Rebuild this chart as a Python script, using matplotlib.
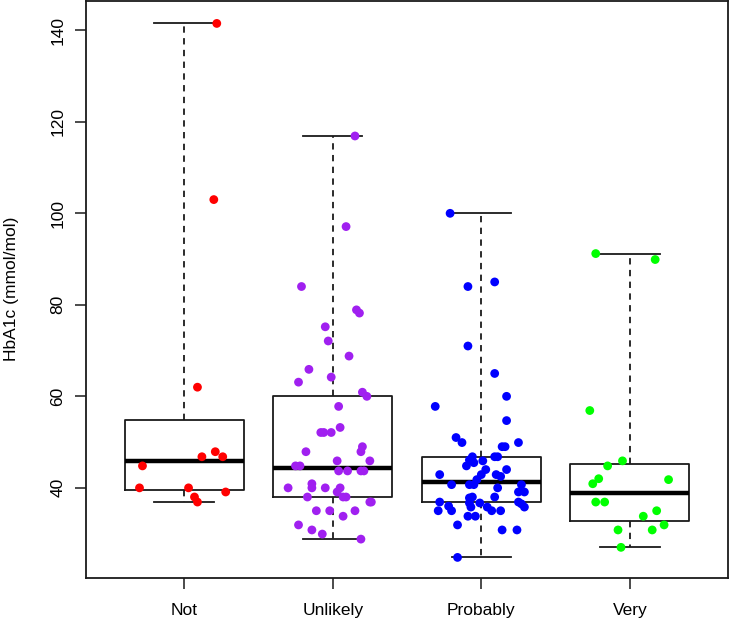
import matplotlib
matplotlib.use("Agg")
import matplotlib.pyplot as plt

plt.rcParams['font.family'] = ['Liberation Sans', 'DejaVu Sans']

# groups
kategorie = ["Not", "Unlikely", "Probably", "Very"]
barvy = ["#ff0000", "#a020f0", "#0000ff", "#00ff00"]

# box statistics (whislo, q1, median, q3, whishi)
dolni_vous = [36.9, 28.8, 24.8, 27.0]
q1 = [39.6, 38.0, 36.9, 32.7]
median = [45.9, 44.4, 41.3, 38.9]
q3 = [54.9, 60.0, 46.8, 45.3]
horni_vous = [141.5, 116.9, 100.0, 91.2]

# individual values and their horizontal jitter
not_hodnoty = [141.5, 103.0, 62.0, 46.8, 47.9, 46.8, 44.8, 40.0, 40.0, 39.1, 38.0, 36.9]
not_jitter = [0.22, 0.20, 0.09, 0.12, 0.21, 0.26, -0.28, -0.30, 0.03, 0.28, 0.07, 0.09]

unlikely_hodnoty = [116.9, 97.1, 84.0, 78.9, 78.2, 75.2, 72.1, 68.8, 65.9, 63.1,
                    64.2, 60.9, 60.0, 57.8, 53.2, 52.1, 52.1, 52.1, 49.0, 47.9,
                    47.9, 45.9, 45.9, 44.8, 44.8, 43.7, 43.7, 43.7, 43.7, 40.0,
                    40.9, 40.0, 40.0, 40.0, 39.1, 38.0, 38.0, 38.0, 36.9, 36.9,
                    35.0, 35.0, 35.0, 33.8, 31.9, 30.8, 29.9, 28.8]
unlikely_jitter = [0.15, 0.09, -0.21, 0.16, 0.18, -0.05, -0.03, 0.11, -0.16, -0.23,
                   -0.01, 0.20, 0.23, 0.04, 0.05, -0.08, -0.06, -0.01, 0.20, 0.19,
                   -0.18, 0.25, 0.03, -0.25, -0.22, 0.04, 0.10, 0.19, 0.21, -0.30,
                   -0.14, -0.14, -0.05, 0.05, 0.03, 0.07, 0.09, -0.17, 0.25, 0.26,
                   -0.11, -0.02, 0.15, 0.07, -0.23, -0.14, -0.07, 0.19]

probably_hodnoty = [100.0, 84.0, 85.0, 71.0, 65.0, 60.0, 57.8, 54.7, 51.0, 49.9,
                    49.9, 49.0, 49.0, 46.8, 46.1, 45.9, 46.8, 46.8, 44.8, 45.5,
                    44.0, 44.0, 42.9, 42.5, 42.9, 42.9, 41.8, 40.7, 40.7, 40.7,
                    40.7, 40.0, 39.1, 39.1, 38.0, 37.8, 38.0, 36.9, 36.7, 36.7,
                    36.9, 36.5, 35.8, 36.0, 35.0, 35.8, 35.8, 35.0, 35.0, 35.0,
                    33.8, 33.8, 31.9, 30.8, 30.8, 24.8]
probably_jitter = [-0.21, -0.09, 0.09, -0.09, 0.09, 0.17, -0.31, 0.17, -0.17, -0.13,
                   0.25, 0.14, 0.16, -0.06, -0.08, 0.01, 0.09, 0.11, -0.10, -0.05,
                   0.17, 0.03, 0.10, 0.13, -0.28, 0.00, -0.03, -0.20, -0.08, -0.05,
                   0.27, 0.11, 0.25, 0.29, -0.06, -0.08, 0.09, -0.28, -0.08, -0.01,
                   0.25, 0.27, 0.29, -0.22, -0.20, -0.07, 0.04, 0.07, -0.29, 0.13,
                   -0.09, -0.04, -0.16, 0.14, 0.24, -0.16]

very_hodnoty = [91.2, 89.9, 56.9, 45.9, 44.8, 42.0, 40.9, 41.8, 36.9, 36.9,
                33.8, 35.0, 31.9, 30.8, 30.8, 27.0]
very_jitter = [-0.23, 0.17, -0.27, -0.05, -0.15, -0.21, -0.25, 0.26, -0.23, -0.17,
               0.09, 0.18, 0.23, -0.08, 0.15, -0.06]

hodnoty = [not_hodnoty, unlikely_hodnoty, probably_hodnoty, very_hodnoty]
jitter = [not_jitter, unlikely_jitter, probably_jitter, very_jitter]

fig = plt.figure(figsize=(7.3, 6.24), dpi=100)
ax = fig.add_axes([86 / 730, 1 - 578 / 624, 642 / 730, 577 / 624])

statistiky = []
for i in range(len(kategorie)):
    statistiky.append({"whislo": dolni_vous[i], "q1": q1[i], "med": median[i],
                       "q3": q3[i], "whishi": horni_vous[i], "fliers": []})

cara = "#1a1a1a"
ax.bxp(statistiky, positions=range(1, 5), widths=0.8, showfliers=False,
       boxprops=dict(color=cara, linewidth=1.3),
       medianprops=dict(color="black", linewidth=3.2, solid_capstyle="butt"),
       whiskerprops=dict(color=cara, linewidth=1.3, linestyle=(0, (3.5, 3))),
       capprops=dict(color=cara, linewidth=1.3),
       capwidths=0.4, zorder=2)

for i in range(len(kategorie)):
    xs = [i + 1 + j for j in jitter[i]]
    ax.scatter(xs, hodnoty[i], s=40, color=barvy[i], edgecolors="none", zorder=3)

ax.set_xlim(0.34, 4.66)
ax.set_ylim(20.3, 146.4)
ax.set_xticks(range(1, 5))
ax.set_xticklabels(kategorie)
ax.set_yticks([40, 60, 80, 100, 120, 140])
ax.set_yticklabels(["40", "60", "80", "100", "120", "140"], rotation=90, va="center")
ax.tick_params(axis="both", direction="out", length=8, width=1.1, color=cara,
               labelsize=12.5, pad=10)
ax.tick_params(axis="y", pad=7)
for s in ax.spines.values():
    s.set_linewidth(1.3)
    s.set_color(cara)

fig.text(12 / 730, 1 - 289 / 624, "HbA1c (mmol/mol)", rotation=90,
         ha="center", va="center", fontsize=12.5)

fig.savefig("out.png", dpi=100)
